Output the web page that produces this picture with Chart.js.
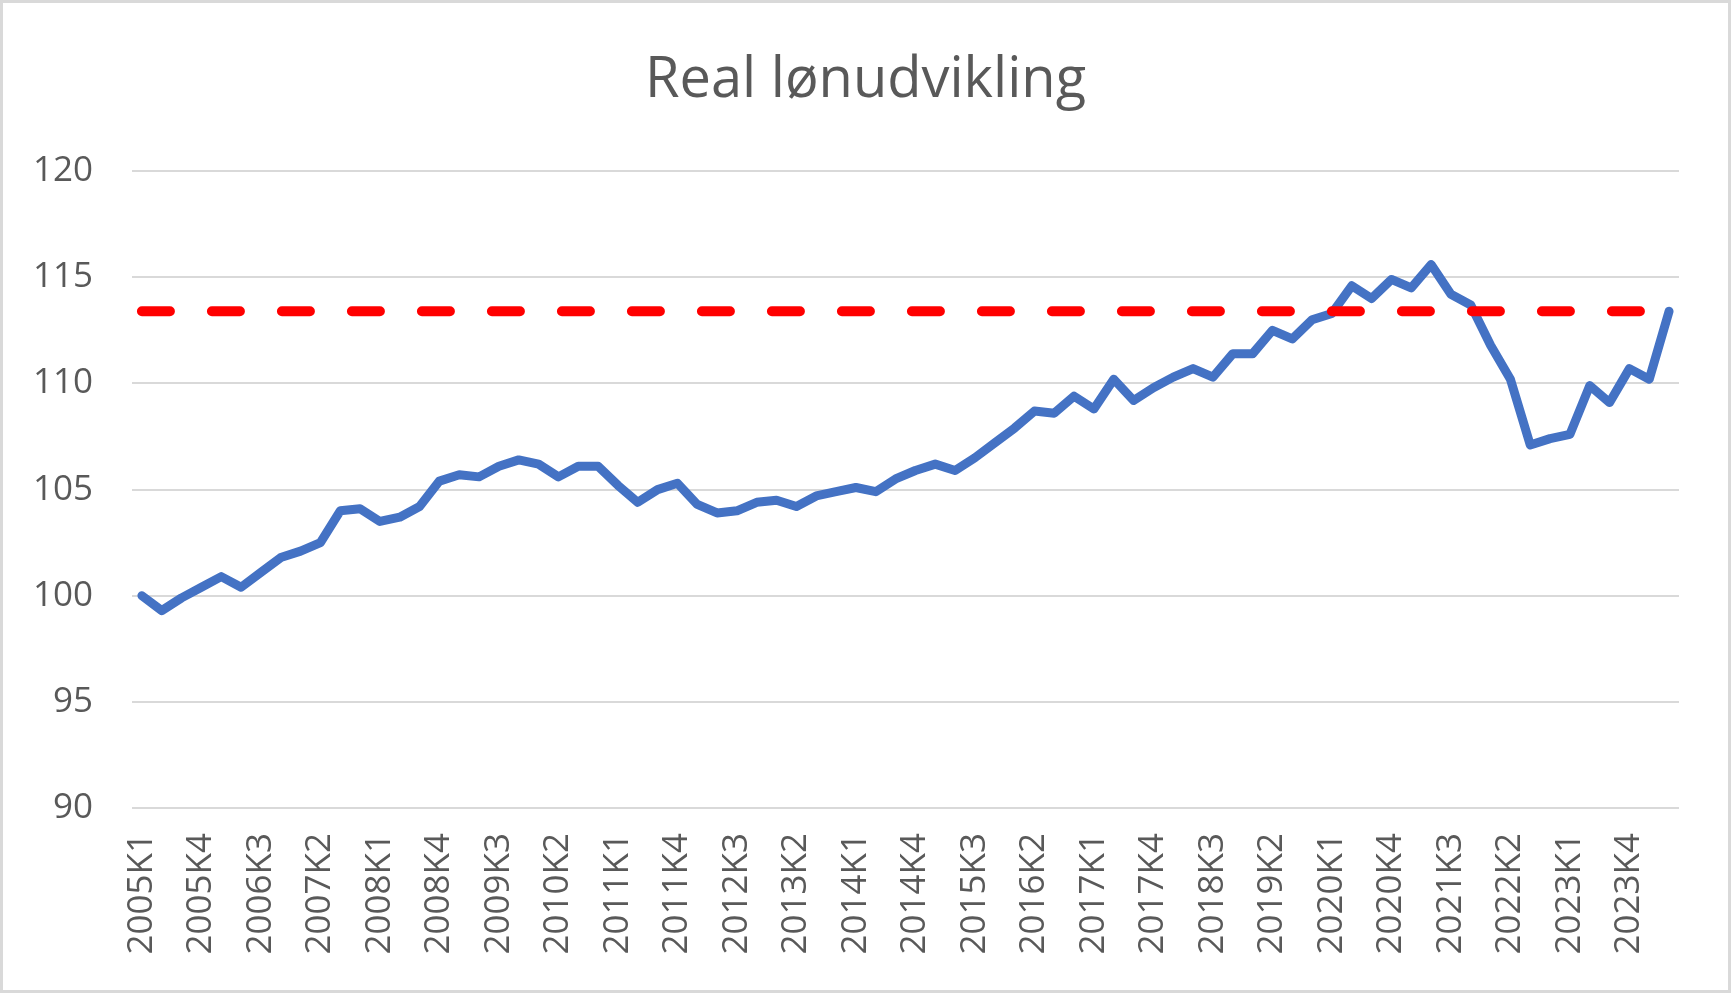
<!DOCTYPE html>
<html>
<head>
<meta charset="utf-8">
<title>Real lønudvikling</title>
<script src="https://cdn.jsdelivr.net/npm/chart.js@4/dist/chart.umd.min.js"></script>
<style>
    html, body { margin: 0; padding: 0; background: #ffffff; }
    canvas { display: block; }
</style>
</head>
<body>
<canvas id="wageChart" width="1731" height="993"></canvas>
<script>
// Kvartaler 2005K1 - 2024K2
const firstYear = 2005;
const lastYear = 2024;
const lastQuarter = 2;

// Reallønsindeks (2005K1 = 100)
const realWage = [
    100.0, 99.3, 99.9, 100.4, 100.9, 100.4, 101.1, 101.8, 102.1, 102.5,
    104.0, 104.1, 103.5, 103.7, 104.2, 105.4, 105.7, 105.6, 106.1, 106.4,
    106.2, 105.6, 106.1, 106.1, 105.2, 104.4, 105.0, 105.3, 104.3, 103.9,
    104.0, 104.4, 104.5, 104.2, 104.7, 104.9, 105.1, 104.9, 105.5, 105.9,
    106.2, 105.9, 106.5, 107.2, 107.9, 108.7, 108.6, 109.4, 108.8, 110.2,
    109.2, 109.8, 110.3, 110.7, 110.3, 111.4, 111.4, 112.5, 112.1, 113.0,
    113.3, 114.6, 114.0, 114.9, 114.5, 115.6, 114.2, 113.7, 111.8, 110.2,
    107.1, 107.4, 107.6, 109.9, 109.1, 110.7, 110.2, 113.4
];

// Vandret referencelinje (seneste niveau)
const referenceLevel = 113.4;

// Akse
const yMin = 90;
const yMax = 120;
const yStep = 5;
const labelEvery = 3;

const quarterLabels = [];
for (let year = firstYear; year <= lastYear; year++) {
    for (let q = 1; q <= 4; q++) {
        if (year === lastYear && q > lastQuarter) break;
        quarterLabels.push(year + 'K' + q);
    }
}
const referenceLine = quarterLabels.map(() => referenceLevel);

const textColor = '#595959';
const gridColor = '#d9d9d9';
const fontFamily = '"Open Sans", "Noto Sans", sans-serif';

// Grå ramme om diagramområdet
const chartBorder = {
    id: 'chartBorder',
    beforeDraw(chart) {
        const ctx = chart.ctx;
        ctx.save();
        ctx.fillStyle = '#ffffff';
        ctx.fillRect(0, 0, chart.width, chart.height);
        ctx.strokeStyle = gridColor;
        ctx.lineWidth = 3;
        ctx.strokeRect(1.5, 1.5, chart.width - 3, chart.height - 3);
        ctx.restore();
    }
};

const ctx = document.getElementById('wageChart').getContext('2d');
new Chart(ctx, {
    type: 'line',
    data: {
        labels: quarterLabels,
        datasets: [
            {
                label: 'Real lønudvikling',
                data: realWage,
                borderColor: '#4472c4',
                borderWidth: 9,
                borderJoinStyle: 'round',
                borderCapStyle: 'round',
                pointRadius: 0,
                tension: 0,
                fill: false,
                order: 2
            },
            {
                label: 'Niveau',
                data: referenceLine,
                borderColor: '#ff0000',
                borderWidth: 10,
                borderDash: [28, 42],
                borderCapStyle: 'round',
                pointRadius: 0,
                fill: false,
                order: 1
            }
        ]
    },
    options: {
        responsive: false,
        animation: false,
        devicePixelRatio: 1,
        layout: { padding: 0 },
        plugins: {
            legend: { display: false },
            tooltip: { enabled: false },
            title: {
                display: true,
                text: 'Real lønudvikling',
                color: textColor,
                font: { family: fontFamily, size: 56, weight: 'normal', lineHeight: 1.2 },
                padding: { top: 47, bottom: 57 }
            }
        },
        scales: {
            x: {
                offset: true,
                grid: { display: false, drawTicks: false },
                border: { display: false },
                ticks: {
                    autoSkip: false,
                    minRotation: 90,
                    maxRotation: 90,
                    padding: 25,
                    color: textColor,
                    font: { family: fontFamily, size: 35 },
                    callback: (value, index) => index % labelEvery === 0 ? quarterLabels[index] : null
                },
                afterFit: (scale) => { scale.height = 185; }
            },
            y: {
                min: yMin,
                max: yMax,
                grid: { color: gridColor, lineWidth: 2, drawTicks: false },
                border: { display: false },
                ticks: {
                    stepSize: yStep,
                    padding: 39,
                    color: textColor,
                    font: { family: fontFamily, size: 35 }
                },
                afterFit: (scale) => { scale.width = 132; }
            },
            // tom akse til højre, giver den hvide margin
            rightSpace: {
                type: 'linear',
                position: 'right',
                min: yMin,
                max: yMax,
                grid: { display: false, drawTicks: false },
                border: { display: false },
                ticks: { display: false },
                afterFit: (scale) => { scale.width = 52; }
            }
        }
    },
    plugins: [chartBorder]
});
</script>
</body>
</html>
